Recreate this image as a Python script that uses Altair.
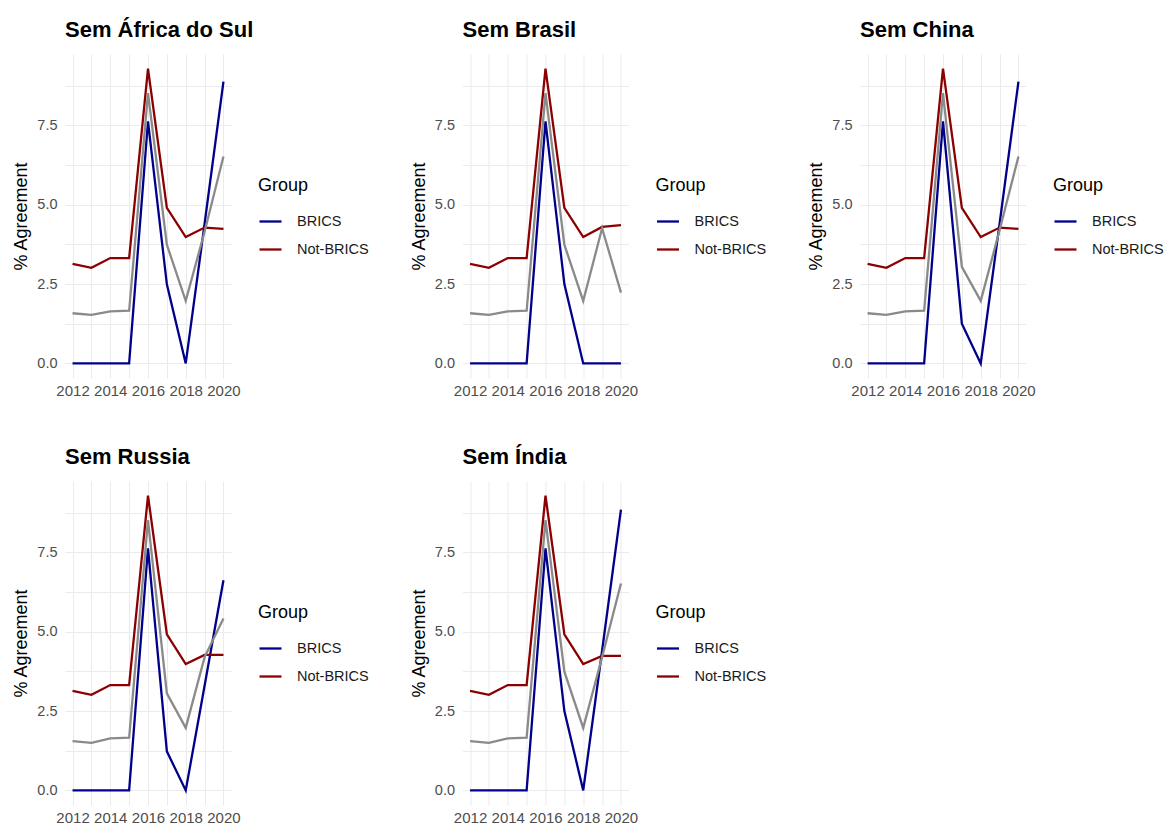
import altair as alt
import pandas as pd

years = [2012, 2013, 2014, 2015, 2016, 2017, 2018, 2019, 2020]
panels = ["Sem África do Sul", "Sem Brasil", "Sem China", "Sem Russia", "Sem Índia"]

brics = {
    "Sem África do Sul": [0, 0, 0, 0, 7.63, 2.49, 0, 4.40, 8.88],
    "Sem Brasil":        [0, 0, 0, 0, 7.63, 2.50, 0, 0, 0],
    "Sem China":         [0, 0, 0, 0, 7.63, 1.25, 0, 4.40, 8.88],
    "Sem Russia":        [0, 0, 0, 0, 7.63, 1.23, 0, 3.30, 6.62],
    "Sem Índia":         [0, 0, 0, 0, 7.63, 2.50, 0, 4.40, 8.85],
}
not_brics = {
    "Sem África do Sul": [3.14, 3.01, 3.32, 3.32, 9.29, 4.90, 3.98, 4.28, 4.24],
    "Sem Brasil":        [3.14, 3.01, 3.32, 3.32, 9.29, 4.90, 3.98, 4.30, 4.36],
    "Sem China":         [3.14, 3.01, 3.32, 3.32, 9.29, 4.90, 3.98, 4.28, 4.24],
    "Sem Russia":        [3.14, 3.01, 3.32, 3.32, 9.29, 4.92, 3.98, 4.27, 4.27],
    "Sem Índia":         [3.14, 3.01, 3.32, 3.32, 9.29, 4.92, 3.98, 4.24, 4.24],
}
overall = {
    "Sem África do Sul": [1.58, 1.53, 1.64, 1.66, 8.52, 3.74, 1.97, 4.15, 6.52],
    "Sem Brasil":        [1.58, 1.53, 1.64, 1.66, 8.52, 3.74, 1.97, 4.26, 2.23],
    "Sem China":         [1.58, 1.53, 1.64, 1.66, 8.52, 3.04, 1.97, 4.20, 6.52],
    "Sem Russia":        [1.55, 1.50, 1.64, 1.66, 8.52, 3.06, 1.97, 4.20, 5.42],
    "Sem Índia":         [1.55, 1.50, 1.64, 1.66, 8.52, 3.74, 1.97, 4.20, 6.52],
}

groups = ["BRICS", "Not-BRICS"]
group_colors = ["#00008B", "#8B0000"]
y_ticks = [0, 1.25, 2.5, 3.75, 5.0, 6.25, 7.5, 8.75]

FONT = "Liberation Sans"
W, H = 166, 324


def panel_chart(name):
    rows = []
    for i, yr in enumerate(years):
        rows.append({"year": yr, "group": "BRICS", "value": brics[name][i]})
        rows.append({"year": yr, "group": "Not-BRICS", "value": not_brics[name][i]})
        rows.append({"year": yr, "group": "Total", "value": overall[name][i]})
    df = pd.DataFrame(rows)

    x = alt.X(
        "year:Q",
        scale=alt.Scale(domain=[2011.6, 2020.4], nice=False, zero=False),
        axis=alt.Axis(
            values=years, format="d", title=None, labelOverlap=False,
            labelExpr="datum.value % 2 == 0 ? datum.label : ''",
            labelFontSize=15, labelColor="#4d4d4d", labelPadding=5,
            ticks=False, tickSize=0, domain=False, gridColor="#ebebeb",
        ),
    )
    y = alt.Y(
        "value:Q",
        scale=alt.Scale(domain=[-0.46, 9.75], nice=False, zero=False),
        axis=alt.Axis(
            values=y_ticks, title="% Agreement",
            labelExpr="datum.value % 2.5 == 0 ? format(datum.value, '.1f') : ''",
            labelFontSize=14.5, labelColor="#4d4d4d", labelPadding=8,
            titleFontSize=18, titleFontWeight="normal", titleColor="#000000",
            titlePadding=6,
            ticks=False, tickSize=0, domain=False, gridColor="#ebebeb",
        ),
    )
    base = alt.Chart(df)
    colored = base.transform_filter("datum.group != 'Total'").mark_line(strokeWidth=2.3).encode(
        x=x, y=y,
        color=alt.Color(
            "group:N",
            scale=alt.Scale(domain=groups, range=group_colors),
            legend=alt.Legend(
                title="Group", orient="none", legendX=193, legendY=123,
                titleFontSize=18, titleFontWeight="normal", titleColor="#000000",
                titlePadding=14,
                labelFontSize=14.5, labelColor="#1a1a1a",
                symbolType="stroke", symbolStrokeWidth=2.3, symbolSize=484,
                rowPadding=9, labelOffset=14,
            ),
        ),
    )
    gray = base.transform_filter("datum.group == 'Total'").mark_line(
        strokeWidth=2.3, color="#8a8a8a"
    ).encode(x=x, y=y)
    return alt.layer(colored, gray).properties(
        width=W, height=H,
        title=alt.TitleParams(name, anchor="start", frame="group", fontSize=22,
                              fontWeight="bold", color="#000000", offset=12),
    )


charts = [panel_chart(p) for p in panels]
row1 = alt.hconcat(*charts[:3], spacing=40.5).resolve_scale(color="independent").resolve_legend(color="independent")
row2 = alt.hconcat(*charts[3:], spacing=40.5).resolve_scale(color="independent").resolve_legend(color="independent")
chart = alt.vconcat(row1, row2, spacing=48).resolve_scale(color="independent").resolve_legend(color="independent")
chart = chart.configure(font=FONT, padding={"left": 4, "top": 11, "right": 0, "bottom": 0}).configure_view(stroke=None)

chart.save("out.html", embed_options={"renderer": "svg", "actions": False})
